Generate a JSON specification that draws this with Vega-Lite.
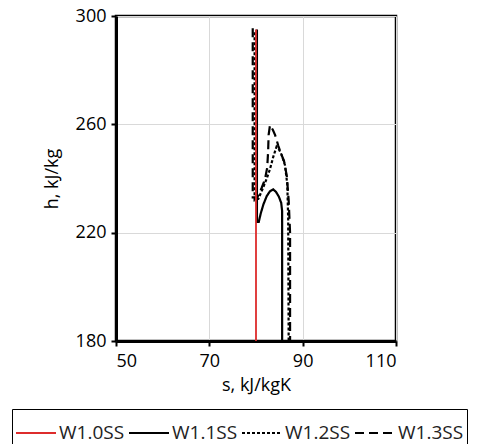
{
  "$schema": "https://vega.github.io/schema/vega-lite/v6.json",
  "autosize": "none",
  "width": 280,
  "height": 325,
  "padding": {"left": 116, "top": 16, "right": 85, "bottom": 103},
  "background": "white",
  "config": {
    "font": "Open Sans",
    "view": {"stroke": "black", "strokeWidth": 2.5},
    "axis": {
      "domainColor": "black", "domainWidth": 3, "tickColor": "black", "tickWidth": 2, "tickSize": 5,
      "labelColor": "black", "labelFontSize": 18, "labelFont": "Open Sans",
      "titleColor": "black", "titleFontSize": 18, "titleFontWeight": "normal", "titleFont": "Open Sans",
      "gridColor": "#d9d9d9", "gridWidth": 1
    }
  },
  "datasets": {
    "curves": [
      {"series": "W1.1SS", "i": 0, "s": 80.2, "h": 295},
      {"series": "W1.1SS", "i": 1, "s": 80.2, "h": 224},
      {"series": "W1.1SS", "i": 2, "s": 80.6, "h": 224},
      {"series": "W1.1SS", "i": 3, "s": 81.0, "h": 227},
      {"series": "W1.1SS", "i": 4, "s": 81.6, "h": 230.5},
      {"series": "W1.1SS", "i": 5, "s": 82.3, "h": 233.5},
      {"series": "W1.1SS", "i": 6, "s": 83.0, "h": 235.3},
      {"series": "W1.1SS", "i": 7, "s": 83.7, "h": 236},
      {"series": "W1.1SS", "i": 8, "s": 84.3, "h": 235},
      {"series": "W1.1SS", "i": 9, "s": 84.9, "h": 233.3},
      {"series": "W1.1SS", "i": 10, "s": 85.4, "h": 231},
      {"series": "W1.1SS", "i": 11, "s": 85.6, "h": 228},
      {"series": "W1.1SS", "i": 12, "s": 85.6, "h": 180},
      {"series": "W1.2SS", "i": 0, "s": 79.7, "h": 294},
      {"series": "W1.2SS", "i": 1, "s": 79.7, "h": 232},
      {"series": "W1.2SS", "i": 2, "s": 80.5, "h": 232.5},
      {"series": "W1.2SS", "i": 3, "s": 81.5, "h": 236.5},
      {"series": "W1.2SS", "i": 4, "s": 82.3, "h": 240},
      {"series": "W1.2SS", "i": 5, "s": 83.0, "h": 243.5},
      {"series": "W1.2SS", "i": 6, "s": 83.7, "h": 248},
      {"series": "W1.2SS", "i": 7, "s": 84.4, "h": 251.7},
      {"series": "W1.2SS", "i": 8, "s": 85.0, "h": 250.5},
      {"series": "W1.2SS", "i": 9, "s": 85.5, "h": 248.7},
      {"series": "W1.2SS", "i": 10, "s": 86.2, "h": 245},
      {"series": "W1.2SS", "i": 11, "s": 86.7, "h": 238},
      {"series": "W1.2SS", "i": 12, "s": 86.9, "h": 225},
      {"series": "W1.2SS", "i": 13, "s": 87.0, "h": 180},
      {"series": "W1.3SS", "i": 0, "s": 79.3, "h": 295.5},
      {"series": "W1.3SS", "i": 1, "s": 79.3, "h": 233},
      {"series": "W1.3SS", "i": 2, "s": 80.3, "h": 233},
      {"series": "W1.3SS", "i": 3, "s": 81.2, "h": 236.5},
      {"series": "W1.3SS", "i": 4, "s": 81.9, "h": 239.5},
      {"series": "W1.3SS", "i": 5, "s": 82.4, "h": 244},
      {"series": "W1.3SS", "i": 6, "s": 82.6, "h": 250},
      {"series": "W1.3SS", "i": 7, "s": 82.7, "h": 256},
      {"series": "W1.3SS", "i": 8, "s": 83.0, "h": 259.7},
      {"series": "W1.3SS", "i": 9, "s": 83.6, "h": 258},
      {"series": "W1.3SS", "i": 10, "s": 84.1, "h": 256},
      {"series": "W1.3SS", "i": 11, "s": 84.8, "h": 252},
      {"series": "W1.3SS", "i": 12, "s": 85.4, "h": 249},
      {"series": "W1.3SS", "i": 13, "s": 86.0, "h": 246.5},
      {"series": "W1.3SS", "i": 14, "s": 86.6, "h": 241},
      {"series": "W1.3SS", "i": 15, "s": 87.0, "h": 232},
      {"series": "W1.3SS", "i": 16, "s": 87.3, "h": 220},
      {"series": "W1.3SS", "i": 17, "s": 87.3, "h": 180}
    ],
    "red": [
      {"series": "W1.0SS", "i": 0, "s": 80, "h": 180},
      {"series": "W1.0SS", "i": 1, "s": 80, "h": 295}
    ]
  },
  "encoding": {
    "x": {
      "field": "s", "type": "quantitative",
      "scale": {"domain": [50, 110], "nice": false, "zero": false},
      "axis": {"values": [50, 70, 90, 110], "title": "s, kJ/kgK", "titlePadding": 6, "labelPadding": 6}
    },
    "y": {
      "field": "h", "type": "quantitative",
      "scale": {"domain": [180, 300], "nice": false, "zero": false},
      "axis": {"values": [180, 220, 260, 300], "title": "h, kJ/kg", "titlePadding": 14, "labelPadding": 5}
    },
    "order": {"field": "i", "type": "quantitative"},
    "color": {
      "field": "series", "type": "nominal",
      "scale": {"domain": ["W1.0SS", "W1.1SS", "W1.2SS", "W1.3SS"], "range": ["#dd2c2c", "black", "black", "black"]},
      "legend": {
        "title": null, "orient": "none", "legendX": -104, "legendY": 393, "direction": "horizontal",
        "strokeColor": "black", "padding": 3, "symbolType": "stroke", "symbolSize": 1600, "symbolStrokeWidth": 2,
        "labelFontSize": 19, "labelColor": "#222", "labelFont": "Open Sans", "columnPadding": 0, "labelOffset": 2
      }
    },
    "strokeDash": {
      "field": "series", "type": "nominal",
      "scale": {"domain": ["W1.0SS", "W1.1SS", "W1.2SS", "W1.3SS"], "range": [[1, 0], [1, 0], [3, 2], [9, 5]]},
      "legend": {
        "title": null, "orient": "none", "legendX": -104, "legendY": 393, "direction": "horizontal",
        "strokeColor": "black", "padding": 3, "symbolType": "stroke", "symbolSize": 1600, "symbolStrokeWidth": 2,
        "labelFontSize": 19, "labelColor": "#222", "labelFont": "Open Sans", "columnPadding": 0, "labelOffset": 2
      }
    }
  },
  "layer": [
    {"data": {"name": "curves"}, "mark": {"type": "line", "strokeWidth": 2.2}},
    {"data": {"name": "red"}, "mark": {"type": "line", "strokeWidth": 1.8}}
  ]
}
